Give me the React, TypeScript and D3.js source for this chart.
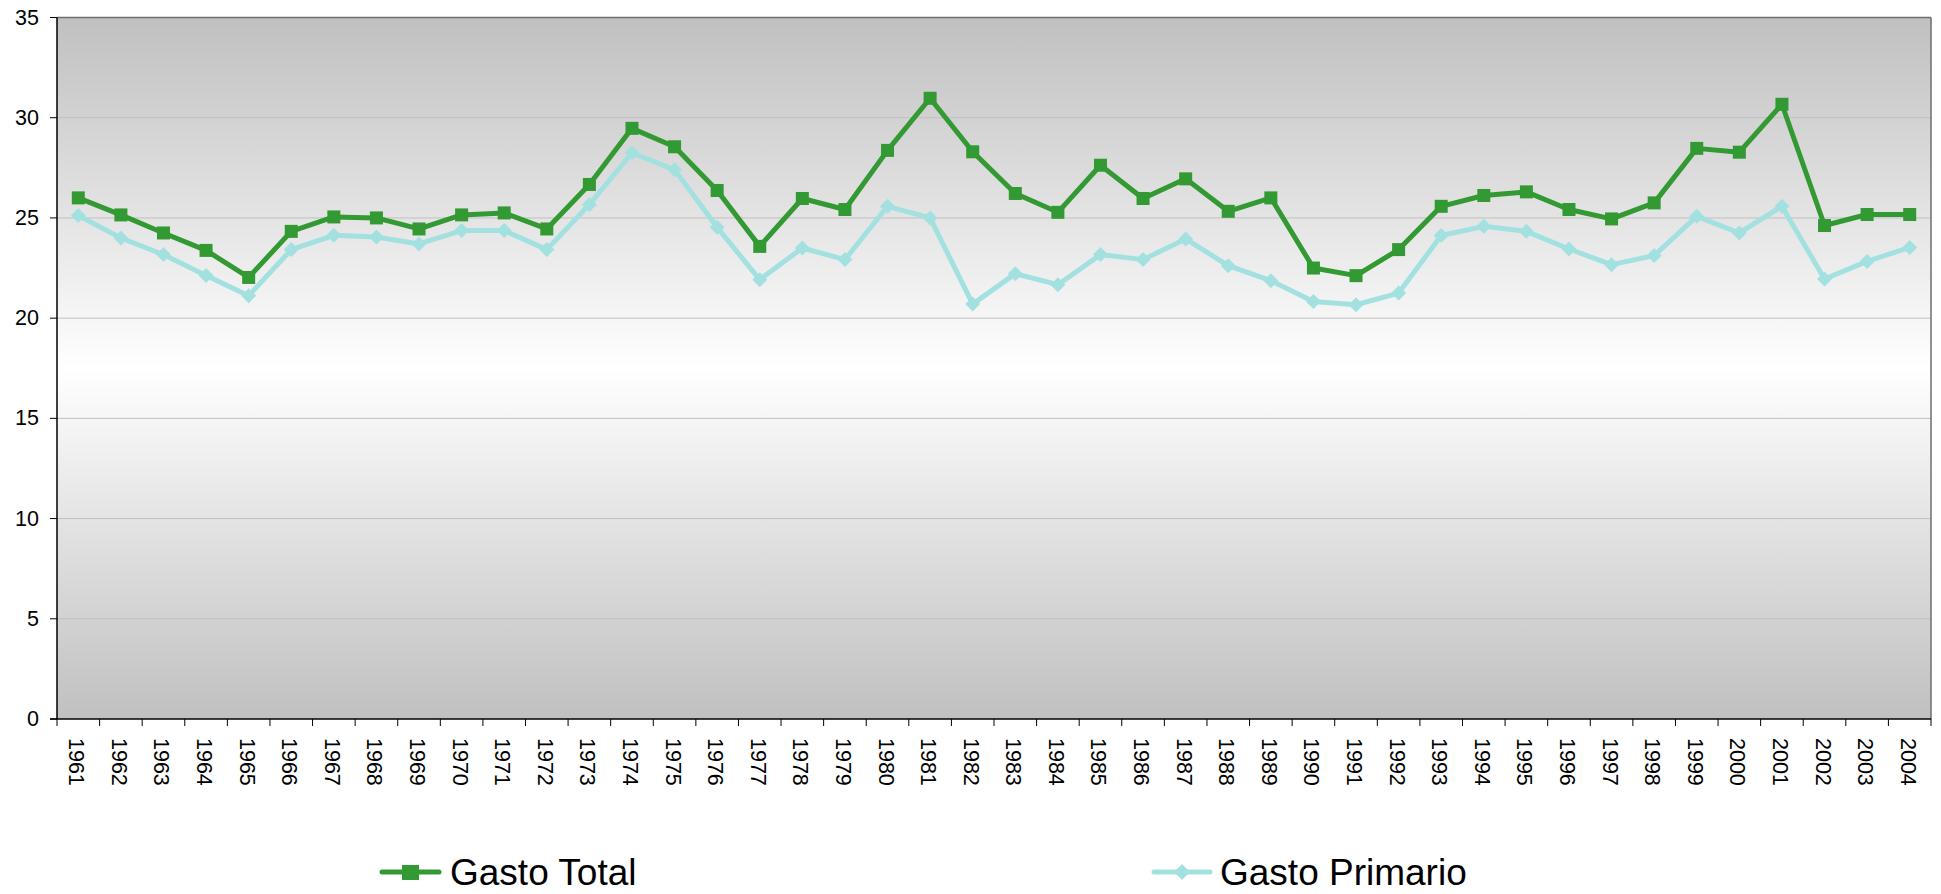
import React from "react";
import * as d3 from "d3";

const years = [
  "1961","1962","1963","1964","1965","1966","1967","1968","1969","1970","1971",
  "1972","1973","1974","1975","1976","1977","1978","1979","1980","1981","1982",
  "1983","1984","1985","1986","1987","1988","1989","1990","1991","1992","1993",
  "1994","1995","1996","1997","1998","1999","2000","2001","2002","2003","2004",
];

const gastoTotal = [
  26.0, 25.15, 24.25, 23.38, 22.03, 24.33, 25.05, 25.0, 24.45, 25.15, 25.25,
  24.45, 26.67, 29.47, 28.55, 26.37, 23.58, 25.97, 25.42, 28.37, 30.97, 28.3,
  26.22, 25.28, 27.63, 25.97, 26.95, 25.33, 26.0, 22.5, 22.12, 23.42, 25.58,
  26.12, 26.3, 25.42, 24.95, 25.75, 28.47, 28.28, 30.67, 24.62, 25.17, 25.17,
];

const gastoPrimario = [
  25.12, 24.0, 23.17, 22.13, 21.12, 23.42, 24.13, 24.05, 23.7, 24.37, 24.37,
  23.42, 25.67, 28.25, 27.4, 24.53, 21.92, 23.5, 22.92, 25.58, 25.0, 20.7,
  22.22, 21.67, 23.17, 22.92, 23.95, 22.62, 21.87, 20.83, 20.67, 21.25, 24.12,
  24.58, 24.33, 23.45, 22.67, 23.12, 25.08, 24.25, 25.58, 21.95, 22.83, 23.53,
];

const yTicks = [0, 5, 10, 15, 20, 25, 30, 35];

const W = 1941;
const H = 894;
const M = { left: 57, right: 1931, top: 17.5, bottom: 719 };
const GREEN = "#339933";
const CYAN = "#a3e1e1";
const FONT = "'Liberation Sans', Arial, sans-serif";

export default function App() {
  const x = d3.scaleBand<string>().domain(years).range([M.left, M.right]).padding(0);
  const y = d3.scaleLinear().domain([0, 35]).range([M.bottom, M.top]);
  const cx = (i: number) => (x(years[i]) as number) + x.bandwidth() / 2;

  const line = d3
    .line<number>()
    .x((_, i) => cx(i))
    .y((d) => y(d));

  const sq = 13;
  const dia = (px: number, py: number, r: number) =>
    `M${px},${py - r}L${px + r},${py}L${px},${py + r}L${px - r},${py}Z`;

  const boundaries = years.map((yr) => x(yr) as number).concat([M.right]);

  return (
    <div style={{ position: "absolute", left: 0, top: 0 }}>
      <svg width={W} height={H} style={{ display: "block", fontFamily: FONT }}>
        <defs>
          <linearGradient id="bg" x1="0" y1="0" x2="0" y2="1">
            <stop offset="0%" stopColor="#c0c0c0" />
            <stop offset="50%" stopColor="#ffffff" />
            <stop offset="100%" stopColor="#c0c0c0" />
          </linearGradient>
        </defs>
        <rect x={0} y={0} width={W} height={H} fill="#ffffff" />
        <rect
          x={M.left}
          y={M.top}
          width={M.right - M.left}
          height={M.bottom - M.top}
          fill="url(#bg)"
        />
        {yTicks.slice(1, -1).map((t) => (
          <line
            key={"g" + t}
            x1={M.left}
            x2={M.right}
            y1={y(t)}
            y2={y(t)}
            stroke="#c0c0c0"
            strokeWidth={1}
          />
        ))}
        <line x1={M.left} x2={M.right} y1={M.top} y2={M.top} stroke="#6e6e6e" strokeWidth={1.5} />
        <line x1={M.right} x2={M.right} y1={M.top} y2={M.bottom} stroke="#6e6e6e" strokeWidth={1.5} />
        <line x1={M.left} x2={M.left} y1={M.top} y2={M.bottom} stroke="#000" strokeWidth={1.5} />
        <line x1={M.left - 7} x2={M.right} y1={M.bottom} y2={M.bottom} stroke="#000" strokeWidth={1.5} />
        {yTicks.map((t) => (
          <g key={"yt" + t}>
            <line x1={M.left - 7} x2={M.left} y1={y(t)} y2={y(t)} stroke="#000" strokeWidth={1} />
            <text
              x={39}
              y={y(t)}
              textAnchor="end"
              dominantBaseline="central"
              fontSize={21.5}
              fill="#000"
            >
              {t}
            </text>
          </g>
        ))}
        {boundaries.map((bx, i) => (
          <line key={"xt" + i} x1={bx} x2={bx} y1={M.bottom} y2={M.bottom + 7} stroke="#000" strokeWidth={1} />
        ))}
        {years.map((yr, i) => (
          <text
            key={"xl" + yr}
            transform={`translate(${cx(i) - 2},${738}) rotate(90)`}
            textAnchor="start"
            dominantBaseline="central"
            fontSize={21.5}
            fill="#000"
          >
            {yr}
          </text>
        ))}
        <path d={line(gastoPrimario) || ""} fill="none" stroke={CYAN} strokeWidth={5} strokeLinejoin="round" />
        {gastoPrimario.map((v, i) => (
          <path key={"pm" + i} d={dia(cx(i), y(v), 7.5)} fill={CYAN} />
        ))}
        <path d={line(gastoTotal) || ""} fill="none" stroke={GREEN} strokeWidth={5} strokeLinejoin="round" />
        {gastoTotal.map((v, i) => (
          <rect key={"tm" + i} x={cx(i) - sq / 2} y={y(v) - sq / 2} width={sq} height={sq} fill={GREEN} />
        ))}
        <g>
          <line x1={382} x2={439} y1={872} y2={872} stroke={GREEN} strokeWidth={5} strokeLinecap="round" />
          <rect x={402} y={865} width={17} height={15} fill={GREEN} />
          <text x={450} y={885} fontSize={37} fill="#000">Gasto Total</text>
          <line x1={1154} x2={1210} y1={872} y2={872} stroke={CYAN} strokeWidth={5} strokeLinecap="round" />
          <path d={dia(1182, 872, 8)} fill={CYAN} />
          <text x={1220} y={885} fontSize={37} fill="#000">Gasto Primario</text>
        </g>
      </svg>
    </div>
  );
}
